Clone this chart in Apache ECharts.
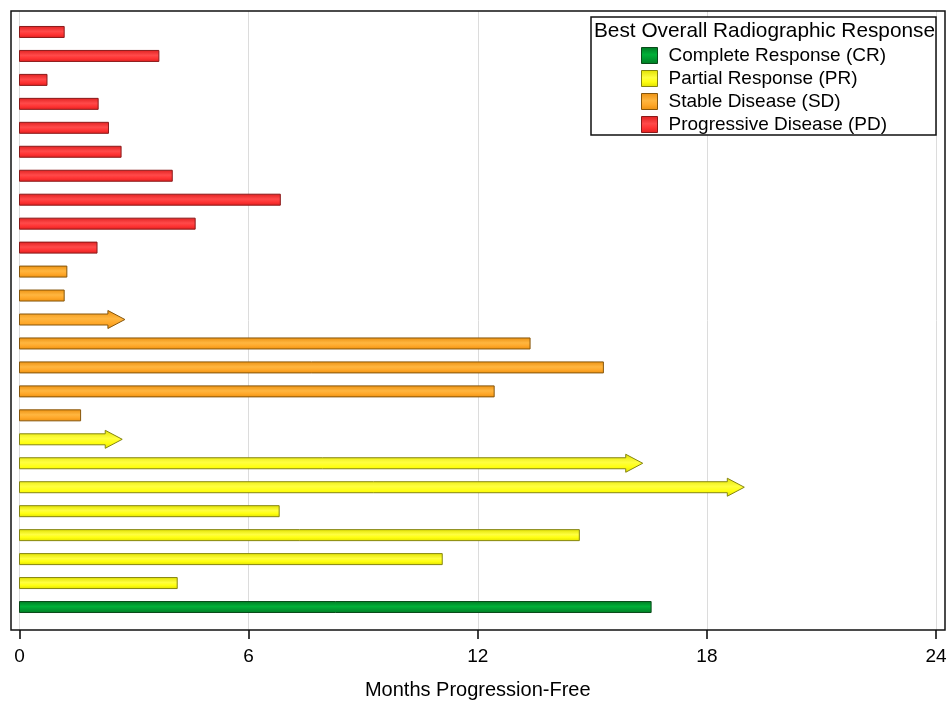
<!DOCTYPE html>
<html>
<head>
<meta charset="utf-8">
<script src="https://cdn.jsdelivr.net/npm/echarts@6/dist/echarts.min.js"></script>
<style>
  html, body { margin: 0; padding: 0; background: #fff; }
  #chart { width: 948px; height: 702px; }
</style>
</head>
<body>
<div id="chart"></div>
<script>
// ---- Data (top to bottom) ----
const patients = ['P1','P2','P3','P4','P5','P6','P7','P8','P9','P10','P11','P12','P13',
                  'P14','P15','P16','P17','P18','P19','P20','P21','P22','P23','P24','P25'];
const monthsPF = [1.17, 3.65, 0.72, 2.06, 2.33, 2.66, 4.00, 6.83, 4.60, 2.03,
                  1.24, 1.17, 2.76, 13.37, 15.29, 12.43, 1.60,
                  2.69, 16.32, 18.98, 6.80, 14.66, 11.07, 4.13,
                  16.54];
const response = ['PD','PD','PD','PD','PD','PD','PD','PD','PD','PD',
                  'SD','SD','SD','SD','SD','SD','SD',
                  'PR','PR','PR','PR','PR','PR','PR',
                  'CR'];
const ongoing  = [0,0,0,0,0,0,0,0,0,0,
                  0,0,1,0,0,0,0,
                  1,1,1,0,0,0,0,
                  0];
const groupCodes = ['CR','PR','SD','PD'];
const groupNames = ['Complete Response (CR)','Partial Response (PR)','Stable Disease (SD)','Progressive Disease (PD)'];
const xTicks = [0, 6, 12, 18, 24];

const palette = {
  CR: { hi: '#00b038', mid: '#009a30', lo: '#007a24', border: '#0a4a1a' },
  PR: { hi: '#ffff40', mid: '#ffff10', lo: '#e0e000', border: '#858510' },
  SD: { hi: '#ffb640', mid: '#ffa82a', lo: '#ec9010', border: '#86560c' },
  PD: { hi: '#ff4a4a', mid: '#ff3434', lo: '#e02020', border: '#8a1a1a' }
};
function grad(c) {
  return new echarts.graphic.LinearGradient(0, 0, 0, 1, [
    { offset: 0, color: c.lo },
    { offset: 0.45, color: c.hi },
    { offset: 0.7, color: c.mid },
    { offset: 1, color: c.lo }
  ]);
}

const FONT = '"Liberation Sans", Arial, Helvetica, sans-serif';

function renderItem(params, api) {
  const v = api.value(0), idx = api.value(1), ong = api.value(2);
  const code = response[idx];
  const c = palette[code];
  const s = api.coord([0, idx]);
  const e = api.coord([v, idx]);
  const y = s[1], x0 = s[0], x1 = e[0];
  const hh = 5.5, head = 17, headH = 9;
  let pts;
  if (ong) {
    const b = x1 - head;
    pts = [[x0, y - hh], [b, y - hh], [b, y - headH], [x1, y], [b, y + headH], [b, y + hh], [x0, y + hh]];
  } else {
    pts = [[x0, y - hh], [x1, y - hh], [x1, y + hh], [x0, y + hh]];
  }
  return {
    type: 'polygon',
    shape: { points: pts },
    style: { fill: grad(c), stroke: c.border, lineWidth: 1 }
  };
}

const series = groupCodes.map((code, gi) => ({
  name: groupNames[gi],
  type: 'custom',
  xAxisIndex: 0,
  yAxisIndex: 0,
  renderItem: renderItem,
  itemStyle: { color: palette[code].mid, borderColor: palette[code].border, borderWidth: 1 },
  encode: { x: 0, y: 1 },
  data: monthsPF.map((v, i) => [v, i, ongoing[i]]).filter((d, i) => response[i] === code),
  clip: false,
  silent: true
}));

const chart = echarts.init(document.getElementById('chart'), null, { renderer: 'canvas' });
chart.setOption({
  animation: false,
  backgroundColor: '#ffffff',
  textStyle: { fontFamily: FONT },
  grid: [
    { left: 19.5, right: 12, top: 20, bottom: 83, containLabel: false, outerBoundsMode: 'none' },
    { left: 19.5, right: 12, top: 11, bottom: 72, containLabel: false, outerBoundsMode: 'none' }
  ],
  xAxis: [
    { type: 'value', gridIndex: 0, min: 0, max: 24, interval: 6, show: false },
    {
      type: 'value', gridIndex: 1, min: 0, max: 24, interval: 6,
      axisLine: { show: false },
      axisTick: { show: true, length: 9, lineStyle: { color: '#000', width: 1.5 } },
      axisLabel: { fontSize: 19, color: '#000', margin: 17, fontFamily: FONT,
                   formatter: v => xTicks.indexOf(v) >= 0 ? String(v) : '' },
      splitLine: { show: true, lineStyle: { color: '#dcdcdc', width: 1 } },
      name: 'Months Progression-Free',
      nameLocation: 'middle',
      nameGap: 50,
      nameTextStyle: { fontSize: 20, color: '#000', fontFamily: FONT }
    }
  ],
  yAxis: [
    { type: 'category', gridIndex: 0, data: patients, inverse: true, show: false },
    { type: 'value', gridIndex: 1, min: 0, max: 1, show: false }
  ],
  legend: {
    z: 20,
    orient: 'vertical',
    left: 641,
    top: 46,
    itemWidth: 16,
    itemHeight: 16,
    itemGap: 4,
    icon: 'rect',
    padding: 0,
    textStyle: { fontSize: 19, lineHeight: 19, color: '#000', fontFamily: FONT, padding: [0, 0, 0, 6] },
    data: groupCodes.map((code, gi) => ({
      name: groupNames[gi],
      itemStyle: { color: grad(palette[code]), borderColor: palette[code].border, borderWidth: 1 }
    }))
  },
  graphic: [
    {
      type: 'rect', z: 15, silent: true,
      shape: { x: 11, y: 11, width: 934, height: 619 },
      style: { fill: 'none', stroke: '#111', lineWidth: 1.5 }
    },
    {
      type: 'rect', z: 15, silent: true,
      shape: { x: 591, y: 17, width: 345, height: 118 },
      style: { fill: '#fff', stroke: '#111', lineWidth: 1.5 }
    },
    {
      type: 'text', z: 21, silent: true,
      x: 594, y: 31,
      style: { text: 'Best Overall Radiographic Response', fontSize: 20.8, fontFamily: FONT,
               fill: '#000', textVerticalAlign: 'middle', verticalAlign: 'middle' }
    }
  ],
  series: series
});
</script>
</body>
</html>
